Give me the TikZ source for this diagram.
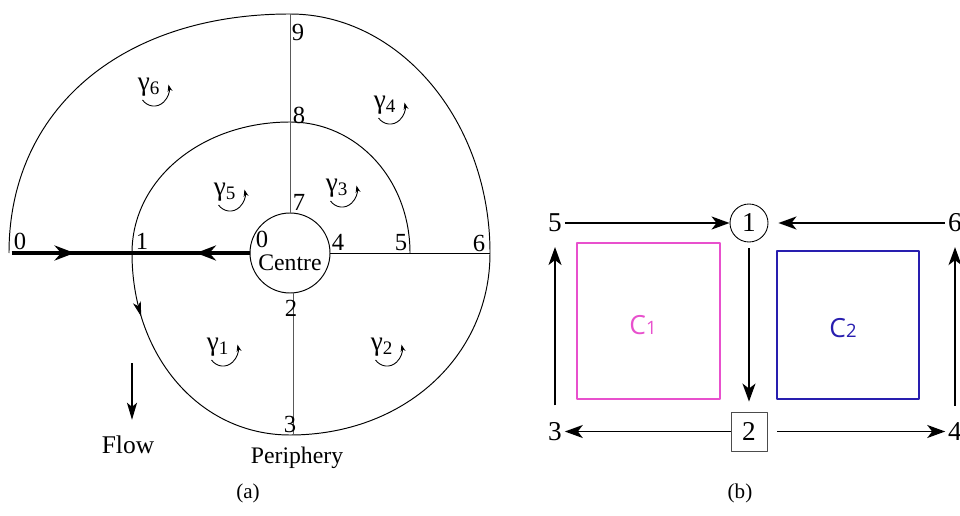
\documentclass[tikz,border=0pt]{standalone}
\usepackage{fontspec}
\setmainfont{Liberation Serif}
\setsansfont{Open Sans}
\usetikzlibrary{calc,arrows.meta,positioning,decorations.markings}

\tikzset{
	headA/.tip={Stealth[length=0.4cm, width=0.3cm, inset=0.13cm]},
	headB/.tip={Stealth[length=0.3cm, width=0.16cm, inset=0.08cm]},
}

\begin{document}
\begin{tikzpicture}[line join=round,
		spiral/.style={line width=0.55pt},
		spoke/.style={line width=0.55pt, black!65},
		flowline/.style={line width=2.8pt},
		lbl/.style={inner sep=1pt, font=\fontsize{14}{16}\selectfont},
		gam/.style={inner sep=0pt, font=\fontsize{15.5}{17}\selectfont},
		swirl/.style={line width=0.5pt, -{Stealth[length=0.14cm, width=0.1cm]}},
		blbl/.style={inner sep=1.5pt, font=\fontsize{15.5}{17}\selectfont},
		barrow/.style={line width=1pt, -{Stealth[length=0.36cm, width=0.26cm, inset=0.1cm]}},
		cell/.style={line width=0.9pt},
		celltext/.style={font=\sffamily\fontsize{15}{17}\selectfont},
	]
	
	% Colours of the two cells
	\definecolor{cellpink}{RGB}{232, 80, 205}
	\definecolor{cellblue}{RGB}{40, 30, 175}
	
	\useasboundingbox (0,0) rectangle (19.2,10.3);
	
	% Coordinates (a)
	\coordinate (O) at (5.8, 5.24);
	\coordinate (s5) at ($(O)+(2.4,0)$);
	\coordinate (s8) at ($(O)+(0,2.62)$);
	\coordinate (s1) at ($(O)+(-3.16,0)$);
	\coordinate (s3) at ($(O)+(0,-3.64)$);
	\coordinate (s6) at ($(O)+(4.0,0)$);
	\coordinate (s9) at ($(O)+(0,4.78)$);
	\coordinate (s0) at ($(O)+(-5.62,0)$);
	
	% 1. Spiral, one quarter turn per piece
	\draw[spiral] (s5) .. controls +(0,1.47) and +(1.34,0) .. (s8)
	.. controls +(-1.77,0) and +(0,1.47) .. (s1);
	\draw[spiral, postaction={decorate},
	decoration={markings, mark=at position 0.24 with {\arrow{headB}}}]
	(s1) .. controls +(0,-2.07) and +(-1.8,0) .. (s3);
	\draw[spiral] (s3) .. controls +(2.28,0) and +(0,-2.07) .. (s6)
	.. controls +(0,2.63) and +(2.2,0) .. (s9)
	.. controls +(-3.37,0) and +(0,2.87) .. (s0);
	
	% 2. Centre
	\node[circle, draw, line width=0.55pt, minimum size=1.6cm, inner sep=0pt] (centre) at (O) {};
	\node[inner sep=0pt, font=\fontsize{13.5}{15}\selectfont] (centretext) at ($(O)+(0,-0.2)$) {Centre};
	
	% 3. Spokes
	\draw[spoke] (centre.north) -- (s9);
	\draw[spoke] ([xshift=0.06cm]centre.south) -- ($(s3)+(0.06,0)$);
	\draw[spiral] (centre.east) -- (s6);
	
	% 4. Thick inflow line with its two arrows
	\draw[flowline, postaction={decorate},
	decoration={markings,
		mark=at position 0.265 with {\arrow{headA}},
		mark=at position 0.775 with {\arrowreversed{headA}}}]
	([xshift=0.05cm]s0) -- (centre.west);
	
	% 5. Point numbers
	\foreach \n/\t/\x/\y in {p0/0/0.40/5.48, p1/1/2.84/5.48, q0/0/5.24/5.52,
		p4/4/6.76/5.46, p5/5/8.02/5.44, p6/6/9.58/5.44, p2/2/5.82/4.14,
		p3/3/5.80/1.82, p7/7/5.98/6.26, p8/8/5.98/8.00, p9/9/5.96/9.66}
	\node[lbl] (\n) at (\x,\y) {\t};
	
	% 6. Circulations
	\foreach \i/\x/\y in {6/2.98/8.56, 4/7.70/8.20, 5/4.50/6.46,
		3/6.74/6.54, 1/4.36/3.36, 2/7.64/3.36} {
		\node[gam] (g\i) at (\x,\y) {γ\textsubscript{\i}};
		\draw[swirl] ($(g\i.center)+(-0.13,-0.26)$) arc[start angle=-140, end angle=15, x radius=0.3, y radius=0.34];
	}
	
	% 7. Flow direction and captions
	\node[font=\fontsize{14.5}{16}\selectfont] (flow) at (2.56, 1.40) {Flow};
	\coordinate (flowtail) at (2.64, 3.04);
	\draw[line width=1pt, -{Stealth[length=0.34cm, width=0.2cm, inset=0.08cm]}, shorten >=0.2cm]
	(flowtail) -- (flowtail |- flow.north);
	\node[font=\fontsize{13.5}{15}\selectfont] (periphery) at (5.94, 1.14) {Periphery};
	\node[font=\fontsize{12}{14}\selectfont] (capa) at (4.96, 0.44) {(a)};
	
	% 8. Panel (b): nodes
	\node[blbl] (n5) at (11.1, 5.84) {5};
	\node[blbl, circle, draw, line width=0.5pt, minimum size=0.76cm, inner sep=0pt] (n1) at (14.98, 5.84) {1};
	\node[blbl] (n6) at (19.1, 5.84) {6};
	\node[blbl] (n3) at (11.1, 1.67) {3};
	\node[blbl, draw=black!70, line width=0.5pt, minimum width=0.72cm, minimum height=0.78cm, inner sep=0pt] (n2) at (14.98, 1.67) {2};
	\node[blbl] (n4) at (19.1, 1.67) {4};
	
	% 9. Panel (b): connectors
	\draw[barrow] (n5) -- (n1);
	\draw[barrow, shorten >=0.2cm] (n6) -- (n1);
	\draw[barrow, shorten <=0.12cm, shorten >=0.2cm] (n1) -- (n2);
	\draw[barrow] (n2) -- (n3);
	\draw[barrow, shorten <=0.2cm] (n2) -- (n4);
	\draw[barrow, shorten <=0.28cm, shorten >=0.24cm] (n3) -- (n5);
	\draw[barrow, shorten <=0.28cm, shorten >=0.24cm] (n4) -- (n6);
	
	% 10. Cells
	\draw[cell, cellpink] (11.54, 5.44) rectangle (14.40, 2.32);
	\draw[cell, cellblue] (15.54, 5.28) rectangle (18.38, 2.32);
	\node[celltext, cellpink] (c1) at (12.86, 3.80) {C{\fontsize{10.5}{12}\selectfont 1}};
	\node[celltext, cellblue] (c2) at (16.86, 3.74) {C{\fontsize{10.5}{12}\selectfont 2}};
	\node[font=\fontsize{12}{14}\selectfont] (capb) at (14.80, 0.44) {(b)};
	
\end{tikzpicture}
\end{document}
